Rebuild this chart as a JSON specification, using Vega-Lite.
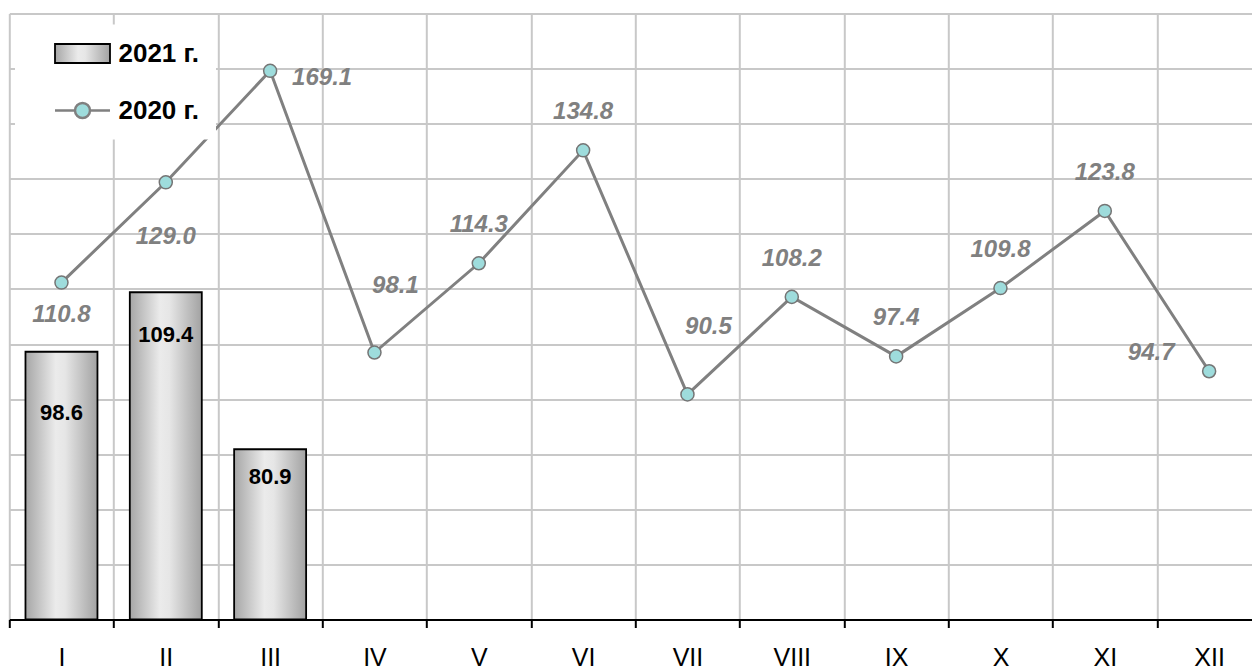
{
  "$schema": "https://vega.github.io/schema/vega-lite/v6.json",
  "width": 1252,
  "height": 606,
  "autosize": {"type": "none"},
  "padding": {"left": 9.3, "top": 13.5, "right": 0, "bottom": 46.5},
  "background": "white",
  "config": {"view": {"stroke": null}, "font": "Liberation Sans"},
  "datasets": {
    "y2021": [
      {"month": "I", "value": 98.6, "series": "2021 г."},
      {"month": "II", "value": 109.4, "series": "2021 г."},
      {"month": "III", "value": 80.9, "series": "2021 г."}
    ],
    "y2020": [
      {"month": "I", "value": 110.8, "series": "2020 г."},
      {"month": "II", "value": 129.0, "series": "2020 г."},
      {"month": "III", "value": 169.1, "series": "2020 г."},
      {"month": "IV", "value": 98.1, "series": "2020 г."},
      {"month": "V", "value": 114.3, "series": "2020 г."},
      {"month": "VI", "value": 134.8, "series": "2020 г."},
      {"month": "VII", "value": 90.5, "series": "2020 г."},
      {"month": "VIII", "value": 108.2, "series": "2020 г."},
      {"month": "IX", "value": 97.4, "series": "2020 г."},
      {"month": "X", "value": 109.8, "series": "2020 г."},
      {"month": "XI", "value": 123.8, "series": "2020 г."},
      {"month": "XII", "value": 94.7, "series": "2020 г."}
    ]
  },
  "encoding": {
    "x": {
      "field": "month",
      "type": "nominal",
      "sort": null,
      "scale": {
        "domain": ["I", "II", "III", "IV", "V", "VI", "VII", "VIII", "IX", "X", "XI", "XII"],
        "paddingInner": 0,
        "paddingOuter": 0
      },
      "axis": {
        "title": null,
        "tickBand": "extent",
        "grid": true,
        "gridColor": "#c8c8c8",
        "gridWidth": 2,
        "domainColor": "black",
        "domainWidth": 2,
        "tickColor": "black",
        "tickWidth": 2,
        "tickSize": 8,
        "labelAngle": 0,
        "labelFont": "Liberation Sans",
        "labelFontSize": 25,
        "labelColor": "black",
        "labelPadding": 18
      }
    }
  },
  "layer": [
    {
      "data": {"name": "y2021"},
      "encoding": {
        "y": {
          "field": "value",
          "type": "quantitative",
          "scale": {"domain": [50, 160], "zero": false, "nice": false},
          "axis": {
            "title": null,
            "values": [50, 60, 70, 80, 90, 100, 110, 120, 130, 140, 150, 160],
            "labels": false,
            "ticks": false,
            "domain": false,
            "grid": true,
            "gridColor": "#c8c8c8",
            "gridWidth": 2
          }
        }
      },
      "layer": [
        {
          "mark": {
            "type": "bar",
            "width": {"band": 0.69},
            "strokeWidth": 1.8,
            "fill": {
              "gradient": "linear",
              "x1": 0, "y1": 0, "x2": 1, "y2": 0,
              "stops": [
                {"offset": 0, "color": "#a6a6a6"},
                {"offset": 0.42, "color": "#ebebeb"},
                {"offset": 0.55, "color": "#e6e6e6"},
                {"offset": 1, "color": "#a2a2a2"}
              ]
            }
          },
          "encoding": {
            "y2": {"datum": 50},
            "stroke": {
              "field": "series",
              "type": "nominal",
              "scale": {"domain": ["2021 г."], "range": ["black"]},
              "legend": {
                "orient": "none",
                "legendX": 5.7,
                "legendY": 11,
                "direction": "vertical",
                "title": null,
                "fillColor": "white",
                "padding": 16,
                "symbolType": "M-2.75,-0.95H2.75V0.95H-2.75Z",
                "symbolSize": 400,
                "symbolOffset": 38.5,
                "symbolStrokeWidth": 1.8,
                "labelFont": "Liberation Sans",
                "labelFontSize": 26,
                "labelFontWeight": "bold",
                "labelColor": "black",
                "labelOffset": 23
              }
            }
          }
        },
        {
          "transform": [{"filter": "datum.month === 'I'"}],
          "mark": {"type": "text", "font": "Liberation Sans", "fontSize": 22, "fontWeight": "bold", "color": "black", "baseline": "middle", "dy": 61},
          "encoding": {"text": {"field": "value", "type": "quantitative", "format": ".1f"}}
        },
        {
          "transform": [{"filter": "datum.month === 'II'"}],
          "mark": {"type": "text", "font": "Liberation Sans", "fontSize": 22, "fontWeight": "bold", "color": "black", "baseline": "middle", "dy": 43},
          "encoding": {"text": {"field": "value", "type": "quantitative", "format": ".1f"}}
        },
        {
          "transform": [{"filter": "datum.month === 'III'"}],
          "mark": {"type": "text", "font": "Liberation Sans", "fontSize": 22, "fontWeight": "bold", "color": "black", "baseline": "middle", "dy": 28},
          "encoding": {"text": {"field": "value", "type": "quantitative", "format": ".1f"}}
        }
      ]
    },
    {
      "data": {"name": "y2020"},
      "encoding": {
        "y": {
          "field": "value",
          "type": "quantitative",
          "scale": {"domain": [50, 140, 169.1], "range": [604, 108.2, 57.3], "zero": false, "nice": false},
          "axis": null
        }
      },
      "layer": [
        {
          "mark": {"type": "line", "color": "#808080", "strokeWidth": 3}
        },
        {
          "mark": {"type": "point", "shape": "circle", "filled": true, "size": 170, "stroke": "#757575", "strokeWidth": 1.5, "opacity": 1},
          "encoding": {
            "fill": {
              "field": "series",
              "type": "nominal",
              "scale": {"domain": ["2020 г."], "range": ["#9edcdc"]},
              "legend": {
                "orient": "none",
                "legendX": 5.7,
                "legendY": 68,
                "direction": "vertical",
                "title": null,
                "fillColor": "white",
                "padding": 16,
                "symbolType": "M-2.75,0H-0.75M0.75,0H2.75M-0.75,0A0.75,0.75 0 1 0 0.75,0A0.75,0.75 0 1 0 -0.75,0",
                "symbolSize": 400,
                "symbolOffset": 38.5,
                "symbolStrokeColor": "#808080",
                "symbolStrokeWidth": 2.5,
                "labelFont": "Liberation Sans",
                "labelFontSize": 26,
                "labelFontWeight": "bold",
                "labelColor": "black",
                "labelOffset": 23
              }
            }
          }
        },
        {
          "transform": [{"filter": {"field": "month", "oneOf": ["V", "VI", "VIII", "IX", "X", "XI"]}}],
          "mark": {"type": "text", "font": "Liberation Sans", "fontSize": 24, "fontWeight": "bold", "fontStyle": "italic", "color": "#808080", "baseline": "middle", "dy": -38},
          "encoding": {"text": {"field": "value", "type": "quantitative", "format": ".1f"}}
        },
        {
          "transform": [{"filter": {"field": "month", "oneOf": ["IV", "VII"]}}],
          "mark": {"type": "text", "font": "Liberation Sans", "fontSize": 24, "fontWeight": "bold", "fontStyle": "italic", "color": "#808080", "baseline": "middle", "dx": 21, "dy": -67},
          "encoding": {"text": {"field": "value", "type": "quantitative", "format": ".1f"}}
        },
        {
          "transform": [{"filter": "datum.month === 'I'"}],
          "mark": {"type": "text", "font": "Liberation Sans", "fontSize": 24, "fontWeight": "bold", "fontStyle": "italic", "color": "#808080", "baseline": "middle", "dy": 32},
          "encoding": {"text": {"field": "value", "type": "quantitative", "format": ".1f"}}
        },
        {
          "transform": [{"filter": "datum.month === 'II'"}],
          "mark": {"type": "text", "font": "Liberation Sans", "fontSize": 24, "fontWeight": "bold", "fontStyle": "italic", "color": "#808080", "baseline": "middle", "dy": 55},
          "encoding": {"text": {"field": "value", "type": "quantitative", "format": ".1f"}}
        },
        {
          "transform": [{"filter": "datum.month === 'III'"}],
          "mark": {"type": "text", "font": "Liberation Sans", "fontSize": 24, "fontWeight": "bold", "fontStyle": "italic", "color": "#808080", "baseline": "middle", "dx": 52, "dy": 7},
          "encoding": {"text": {"field": "value", "type": "quantitative", "format": ".1f"}}
        },
        {
          "transform": [{"filter": "datum.month === 'XII'"}],
          "mark": {"type": "text", "font": "Liberation Sans", "fontSize": 24, "fontWeight": "bold", "fontStyle": "italic", "color": "#808080", "baseline": "middle", "dx": -58, "dy": -18},
          "encoding": {"text": {"field": "value", "type": "quantitative", "format": ".1f"}}
        }
      ]
    }
  ],
  "resolve": {"scale": {"y": "independent"}}
}
